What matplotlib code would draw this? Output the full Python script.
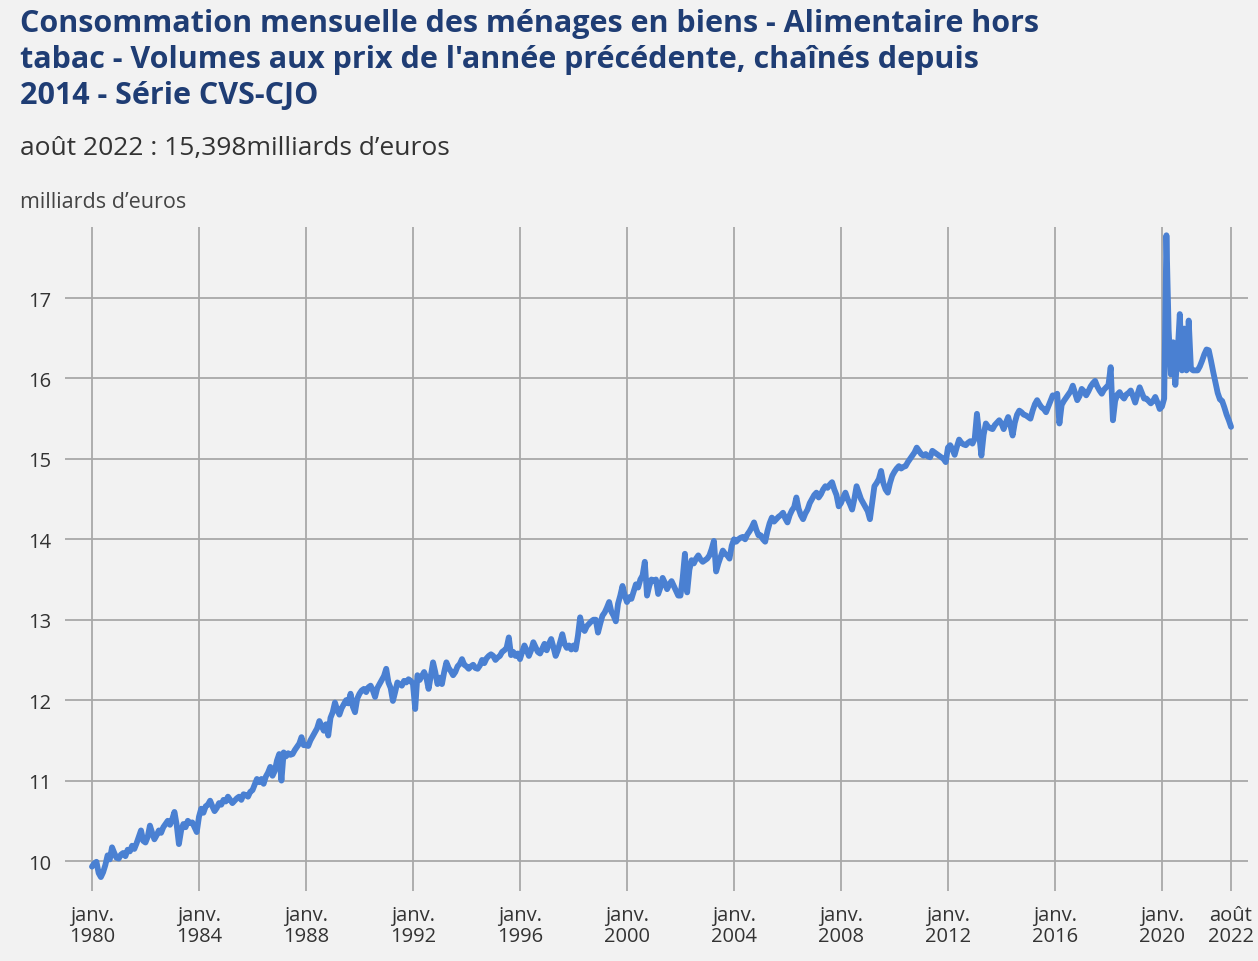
import numpy as np
import matplotlib.pyplot as plt

# monthly values, milliards d'euros (Jan 1980 -> Aug 2022)
vals_1980s = [
    9.93, 9.97, 9.99, 9.85, 9.80, 9.86, 9.95, 10.07, 10.02, 10.17, 10.10, 10.04,
    10.03, 10.08, 10.10, 10.06, 10.14, 10.12, 10.19, 10.15, 10.22, 10.30, 10.38, 10.25,
    10.23, 10.30, 10.44, 10.35, 10.27, 10.32, 10.38, 10.35, 10.42, 10.46, 10.50, 10.45,
    10.52, 10.61, 10.45, 10.21, 10.38, 10.46, 10.42, 10.50, 10.47, 10.48, 10.42, 10.36,
    10.55, 10.65, 10.60, 10.68, 10.70, 10.75, 10.68, 10.62, 10.66, 10.72, 10.70, 10.76,
    10.74, 10.80, 10.76, 10.72, 10.75, 10.78, 10.80, 10.76, 10.83, 10.82, 10.80, 10.86,
    10.88, 10.95, 11.02, 10.98, 11.02, 10.96, 11.05, 11.10, 11.17, 11.06, 11.12, 11.25,
    11.33, 11.00, 11.35, 11.30, 11.34, 11.32, 11.33, 11.38, 11.42, 11.46, 11.54, 11.44,
    11.44, 11.43, 11.50, 11.55, 11.60, 11.65, 11.74, 11.68, 11.62, 11.70, 11.56, 11.78,
    11.85, 11.97, 11.88, 11.82, 11.90, 11.95, 12.00, 11.96, 12.08, 11.92, 11.85, 12.02,
]
vals_1990s = [
    12.08, 12.12, 12.14, 12.10, 12.16, 12.18, 12.12, 12.04, 12.15, 12.20, 12.25, 12.30,
    12.39, 12.22, 12.15, 11.99, 12.10, 12.22, 12.20, 12.18, 12.24, 12.22, 12.26, 12.24,
    12.20, 11.89, 12.31, 12.25, 12.30, 12.35, 12.28, 12.14, 12.30, 12.47, 12.35, 12.20,
    12.28, 12.20, 12.35, 12.47, 12.40, 12.36, 12.31, 12.35, 12.42, 12.45, 12.51, 12.44,
    12.42, 12.39, 12.42, 12.44, 12.40, 12.39, 12.43, 12.50, 12.46, 12.52, 12.55, 12.57,
    12.55, 12.50, 12.53, 12.55, 12.60, 12.62, 12.65, 12.78, 12.56, 12.60, 12.55, 12.58,
    12.51, 12.60, 12.68, 12.62, 12.55, 12.62, 12.72, 12.66, 12.60, 12.58, 12.64, 12.70,
    12.62, 12.70, 12.76, 12.66, 12.55, 12.62, 12.72, 12.82, 12.70, 12.65, 12.68, 12.63,
    12.68, 12.63, 12.80, 13.03, 12.90, 12.86, 12.92, 12.95, 12.98, 13.00, 13.00, 12.84,
    12.95, 13.05, 13.09, 13.15, 13.22, 13.10, 13.05, 12.98, 13.20, 13.30, 13.42, 13.30,
]
vals_2000s = [
    13.22, 13.28, 13.26, 13.35, 13.44, 13.40, 13.50, 13.55, 13.72, 13.30, 13.42, 13.50,
    13.48, 13.50, 13.32, 13.40, 13.52, 13.46, 13.38, 13.44, 13.48, 13.42, 13.36, 13.30,
    13.30, 13.52, 13.82, 13.34, 13.62, 13.74, 13.70, 13.76, 13.80, 13.75, 13.72, 13.74,
    13.76, 13.80, 13.88, 13.98, 13.60, 13.70, 13.78, 13.86, 13.82, 13.80, 13.76, 13.92,
    14.00, 13.97, 14.00, 14.02, 14.03, 14.00, 14.06, 14.10, 14.15, 14.21, 14.12, 14.05,
    14.05, 14.00, 13.97, 14.10, 14.20, 14.27, 14.22, 14.25, 14.28, 14.30, 14.33, 14.26,
    14.21, 14.30, 14.36, 14.40, 14.52, 14.38, 14.30, 14.25, 14.32, 14.37, 14.45, 14.50,
    14.55, 14.58, 14.52, 14.56, 14.62, 14.66, 14.64, 14.68, 14.71, 14.62, 14.55, 14.41,
    14.45, 14.52, 14.58, 14.50, 14.44, 14.37, 14.50, 14.66, 14.58, 14.50, 14.45, 14.40,
    14.35, 14.25, 14.45, 14.66, 14.70, 14.75, 14.85, 14.70, 14.62, 14.58, 14.70, 14.79,
]
vals_2010s = [
    14.84, 14.88, 14.91, 14.88, 14.90, 14.91, 14.96, 15.00, 15.04, 15.08, 15.14, 15.10,
    15.06, 15.04, 15.06, 15.03, 15.02, 15.10, 15.08, 15.06, 15.04, 15.02, 15.00, 14.96,
    15.14, 15.17, 15.12, 15.05, 15.15, 15.24, 15.20, 15.18, 15.17, 15.20, 15.22, 15.19,
    15.25, 15.56, 15.30, 15.04, 15.30, 15.44, 15.40, 15.38, 15.37, 15.42, 15.45, 15.48,
    15.44, 15.37, 15.45, 15.52, 15.42, 15.29, 15.45, 15.55, 15.60, 15.58, 15.55, 15.54,
    15.52, 15.50, 15.60, 15.68, 15.73, 15.68, 15.64, 15.62, 15.58, 15.65, 15.72, 15.79,
    15.78, 15.81, 15.44, 15.67, 15.72, 15.76, 15.80, 15.84, 15.91, 15.82, 15.73, 15.78,
    15.87, 15.84, 15.79, 15.84, 15.90, 15.94, 15.97, 15.90, 15.85, 15.81, 15.86, 15.89,
    15.92, 16.14, 15.48, 15.72, 15.80, 15.83, 15.78, 15.75, 15.80, 15.82, 15.85, 15.78,
    15.70, 15.80, 15.89, 15.82, 15.75, 15.75, 15.72, 15.69, 15.72, 15.77, 15.70, 15.62,
]
vals_2020s = [
    15.65, 15.75, 17.78, 16.60, 16.05, 16.45, 15.92, 16.30, 16.80, 16.10, 16.62, 16.10,
    16.72, 16.12, 16.10, 16.10, 16.10, 16.15, 16.22, 16.30, 16.36, 16.35, 16.22, 16.08,
    15.95, 15.82, 15.74, 15.72, 15.64, 15.55, 15.48, 15.398,
]

tick_months = [0, 48, 96, 144, 192, 240, 288, 336, 384, 432, 480, 511]
tick_labels = ['janv.\n1980', 'janv.\n1984', 'janv.\n1988', 'janv.\n1992',
               'janv.\n1996', 'janv.\n2000', 'janv.\n2004', 'janv.\n2008',
               'janv.\n2012', 'janv.\n2016', 'janv.\n2020', 'août\n2022']
y_ticks = [10, 11, 12, 13, 14, 15, 16, 17]

values = vals_1980s + vals_1990s + vals_2000s + vals_2010s + vals_2020s
months = np.arange(len(values))

plt.rcParams['font.family'] = ['Open Sans', 'DejaVu Sans']
bg = '#f2f2f2'

fig = plt.figure(figsize=(12.58, 9.62), dpi=100, facecolor=bg)
ax = fig.add_axes([65 / 1258, 1 - 892 / 962, (1248 - 65) / 1258, (892 - 228) / 962])
ax.set_facecolor(bg)

ax.plot(months, values, color='#4a80d2', lw=4.2, solid_joinstyle='round',
        solid_capstyle='round', zorder=3)

ax.set_xlim(-12.1, 518.6)
ax.set_ylim(9.627, 17.883)
ax.set_xticks(tick_months)
ax.set_xticklabels(tick_labels, fontsize=14.5, color='#333333', linespacing=1.05)
ax.set_yticks(y_ticks)
ax.set_yticklabels([str(v) for v in y_ticks], fontsize=14.5, color='#333333')
ax.tick_params(length=0)
ax.tick_params(axis='x', pad=10)
ax.tick_params(axis='y', pad=10)
ax.grid(True, color='#a8a8a8', lw=1.3, zorder=0)
for s in ax.spines.values():
    s.set_visible(False)

fig.text(20 / 1258, 1 - 9 / 962,
         "Consommation mensuelle des ménages en biens - Alimentaire hors\n"
         "tabac - Volumes aux prix de l'année précédente, chaînés depuis\n"
         "2014 - Série CVS-CJO",
         fontsize=22, fontweight='bold', color='#1f3d74', va='top', ha='left',
         linespacing=1.27)
fig.text(20 / 1258, 1 - 149 / 962, "août 2022 : 15,398milliards d’euros",
         fontsize=19, color='#333333', va='center', ha='left')
fig.text(20 / 1258, 1 - 203 / 962, "milliards d’euros",
         fontsize=15.5, color='#444444', va='center', ha='left')

plt.savefig('out.png', dpi=100, facecolor=bg)
